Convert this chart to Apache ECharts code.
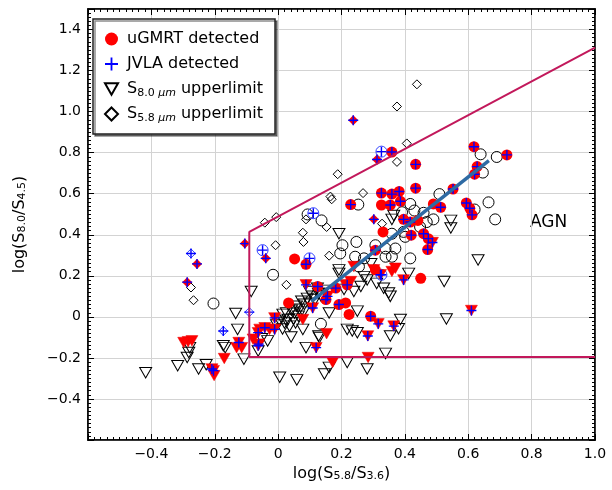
<!DOCTYPE html>
<html><head><meta charset="utf-8">
<script src="https://cdn.jsdelivr.net/npm/echarts@6/dist/echarts.min.js"></script>
<style>html,body{margin:0;padding:0;background:#fff}#c{width:612px;height:490px}</style>
</head><body><div id="c"></div>
<script>
// ---- tick labels ----
const xTickLabels = [-0.4, -0.2, 0, 0.2, 0.4, 0.6, 0.8, 1.0];
const yTickLabels = [-0.4, -0.2, 0, 0.2, 0.4, 0.6, 0.8, 1.0, 1.2, 1.4];

// ---- uGMRT detected (red filled) ----
const circleRed = [[0.618,0.829],[0.722,0.789],[0.628,0.732],[0.620,0.695],[0.434,0.743],[0.359,0.803],
 [0.326,0.603],[0.359,0.598],[0.382,0.611],[0.326,0.545],[0.354,0.545],[0.386,0.563],[0.229,0.547],
 [0.434,0.627],[0.552,0.623],[0.490,0.550],[0.513,0.534],[0.594,0.555],[0.605,0.529],[0.612,0.497],
 [0.396,0.475],[0.417,0.462],[0.441,0.470],[0.331,0.414],[0.420,0.398],[0.459,0.405],[0.474,0.381],
 [0.472,0.328],[0.307,0.325],[0.052,0.282],[0.088,0.256],[0.033,0.068],[0.224,0.012],[0.292,0.003],
 [0.450,0.188],[0.213,0.068],[0.192,0.060],[0.151,0.084],[0.307,0.229],[0.218,0.156],[0.182,0.140],[0.125,0.148]];
const triRed = [[-0.284,-0.121],[-0.272,-0.117],[-0.298,-0.125],[-0.204,-0.262],[-0.202,-0.286],[-0.209,-0.254],
 [-0.170,-0.203],[-0.124,-0.125],[-0.131,-0.150],[-0.115,-0.150],[-0.079,-0.109],[-0.063,-0.077],[-0.058,-0.061],
 [-0.042,-0.053],[-0.027,-0.061],[-0.061,-0.133],[-0.011,-0.005],[-0.011,-0.061],[-0.063,-0.141],
 [0.088,0.156],[0.156,0.100],[0.109,0.043],[0.078,-0.013],[0.316,-0.034],[0.365,-0.045],[0.153,-0.082],
 [0.120,-0.150],[0.283,-0.093],[0.172,-0.222],[0.284,-0.198],[0.239,0.245],[0.229,0.172],[0.213,0.156],
 [0.323,0.205],[0.359,0.221],[0.370,0.237],[0.396,0.180],[0.610,0.031],[0.487,0.362],[0.302,0.229]];
const diaRed = [[-0.256,0.258],[-0.287,0.169],[0.312,0.767],[0.237,0.958],[0.302,0.475],[-0.039,0.285],[-0.105,0.357]];

// ---- not uGMRT detected (open) ----
const circleOpen = [[-0.204,0.065],[0.639,0.792],[0.690,0.779],[0.646,0.703],[0.509,0.598],[0.253,0.547],
 [0.417,0.550],[0.430,0.518],[0.391,0.510],[0.459,0.507],[0.620,0.523],[0.664,0.558],[0.685,0.475],
 [0.469,0.462],[0.490,0.475],[0.448,0.438],[0.359,0.405],[0.401,0.390],[0.396,0.414],[0.370,0.333],
 [0.339,0.333],[0.307,0.349],[0.137,0.470],[0.093,0.499],[0.203,0.349],[0.196,0.309],[0.247,0.365],
 [0.243,0.293],[0.271,0.285],[0.255,0.245],[-0.016,0.205],[0.135,-0.034],[0.359,0.293],[0.417,0.285],[0.339,0.293]];
const triOpen = [[-0.418,-0.272],[-0.085,0.124],[-0.134,0.016],[-0.128,-0.061],[-0.279,-0.150],[-0.282,-0.174],
 [-0.287,-0.198],[-0.317,-0.238],[-0.251,-0.254],[-0.227,-0.233],[-0.167,-0.150],[-0.173,-0.141],[-0.108,-0.206],
 [-0.063,-0.166],[0.005,-0.294],[0.059,-0.307],[0.015,0.012],[0.026,0.019],[0.031,-0.013],[0.192,0.405],
 [0.365,0.494],[0.359,0.475],[0.545,0.470],[0.545,0.433],[0.192,0.229],[0.192,0.212],[0.271,0.196],
 [0.281,0.180],[0.161,0.019],[0.250,0.028],[0.386,-0.013],[0.354,-0.093],[0.218,-0.061],[0.234,-0.069],
 [0.250,-0.077],[0.130,-0.101],[0.041,-0.098],[0.078,-0.061],[0.088,-0.150],[0.161,-0.246],[0.146,-0.278],
 [0.218,-0.222],[0.281,-0.254],[0.339,-0.178],[0.349,0.116],[0.354,0.100],[0.412,0.212],[0.524,0.172],
 [0.631,0.277],[0.531,-0.010],[0.128,-0.093],[0.380,-0.058],
 [0.042,0.032],[0.052,0.018],[0.058,0.052],[0.067,0.037],[0.074,0.076],[0.083,0.061],[0.092,0.090],
 [0.099,0.066],[0.108,0.100],[0.117,0.085],[0.127,0.114],[0.136,0.100],[0.146,0.129],[0.155,0.114],
 [0.049,-0.011],[0.064,0.003],[0.080,0.023],[0.055,-0.030],[0.036,-0.045],[0.020,-0.030],[0.099,0.124],
 [0.124,0.139],[0.005,-0.021],[-0.005,-0.040],[0.014,-0.059],[-0.052,-0.107],[-0.033,-0.117],
 [0.293,0.259],[0.311,0.163],[0.333,0.139],[0.261,0.148],[0.239,0.124],[0.208,0.134]];
const diaOpen = [[-0.275,0.143],[-0.267,0.081],[0.375,1.025],[0.438,1.133],[0.406,0.845],[0.375,0.755],
 [0.188,0.695],[0.268,0.603],[0.165,0.586],[0.169,0.573],[-0.006,0.486],[-0.042,0.459],[0.088,0.475],
 [0.153,0.438],[0.078,0.410],[0.080,0.365],[-0.008,0.349],[0.328,0.454],[0.161,0.298],[0.026,0.156]];
const circleJvlaOnly = [[0.111,0.505],[0.326,0.805],[-0.049,0.325],[0.099,0.285],[0.326,0.205]];
const diaJvlaOnly = [[-0.275,0.309],[-0.091,0.023],[-0.173,-0.069]];

// ---- JVLA detected (blue plus) ----
const jvlaPlus = [[0.618,0.829],[0.722,0.789],[0.628,0.732],[0.620,0.695],[0.434,0.743],[0.359,0.803],
 [0.326,0.603],[0.359,0.598],[0.382,0.611],[0.354,0.545],[0.386,0.563],[0.229,0.547],[0.434,0.627],
 [0.552,0.623],[0.513,0.534],[0.594,0.555],[0.605,0.529],[0.612,0.497],[0.396,0.475],[0.417,0.462],
 [0.420,0.398],[0.459,0.405],[0.474,0.381],[0.472,0.328],[0.307,0.325],[0.088,0.256],[0.292,0.003],
 [0.192,0.060],[0.151,0.084],[0.218,0.156],[0.182,0.140],[0.125,0.148],
 [-0.204,-0.262],[-0.209,-0.254],[-0.124,-0.125],[-0.063,-0.077],[-0.042,-0.053],[-0.061,-0.133],
 [-0.011,-0.005],[-0.011,-0.061],[-0.063,-0.141],[0.088,0.156],[0.156,0.100],[0.109,0.043],[0.316,-0.034],
 [0.365,-0.045],[0.120,-0.150],[0.283,-0.093],[0.323,0.205],[0.396,0.180],[0.610,0.031],[0.487,0.362],
 [-0.256,0.258],[-0.287,0.169],[0.312,0.767],[0.237,0.958],[0.302,0.475],[-0.039,0.285],[-0.105,0.357],
 [0.111,0.505],[0.326,0.805],[-0.049,0.325],[0.099,0.285],[0.326,0.205],
 [-0.275,0.309],[-0.091,0.023],[-0.173,-0.069]];

// ---- lines ----
const agnWedge = [[1.0,-0.195],[-0.091,-0.195],[-0.091,0.414],[1.0,1.312]];
const fitLine = [[0.105,0.076],[0.665,0.761]];

const FONT = 'DejaVu Sans';
const TRI = 'path://M0,0L10,0L5,8.66Z';
const PLUS = 'path://M4.3,0H5.7V4.3H10V5.7H5.7V10H4.3V5.7H0V4.3H4.3Z';

function fmt(list){
  return function(v){
    const r = Math.round(v*10)/10;
    if (Math.abs(v-r) > 1e-6 || !list.some(t => Math.abs(t-r) < 1e-9)) return '';
    return r === 0 ? '0' : r.toFixed(1).replace('-', '\u2212');
  };
}
const openStyle = {color:'rgba(0,0,0,0)', borderColor:'#000', borderWidth:1, opacity:1};
function axisCommon(extra){
  return Object.assign({
    axisLine:{show:true, onZero:false, lineStyle:{color:'#000', width:1.5}},
    axisTick:{show:true, inside:true, length:6, lineStyle:{color:'#000', width:1}},
    minorTick:{show:true, splitNumber:10, length:3, lineStyle:{color:'#000', width:1}},
  }, extra);
}

const chart = echarts.init(document.getElementById('c'), null, {renderer:'canvas'});
chart.setOption({
  animation:false,
  grid:{left:88, right:17, top:9, bottom:50, show:true, borderColor:'#000', borderWidth:1.5, backgroundColor:'#fff'},
  legend:{
    orient:'vertical', left:93, top:19, padding:[10,12,10,11], itemGap:5, itemWidth:13, itemHeight:13,
    backgroundColor:'#fff', borderColor:'#222', borderWidth:1.5,
    shadowColor:'rgba(0,0,0,0.45)', shadowOffsetX:2, shadowOffsetY:2, shadowBlur:0,
    selectedMode:false,
    data:[
      {name:'uGMRT detected', icon:'circle', itemStyle:{color:'#ff0000', borderWidth:0, opacity:1}},
      {name:'JVLA detected', icon:PLUS, itemStyle:{color:'#0000ff', borderWidth:0, opacity:1}},
      {name:'S8', icon:TRI, itemStyle:{color:'rgba(0,0,0,0)', borderColor:'#000', borderWidth:2, opacity:1}},
      {name:'S5', icon:'diamond', itemStyle:{color:'rgba(0,0,0,0)', borderColor:'#000', borderWidth:2, opacity:1}}
    ],
    formatter: function(n){
      return {'uGMRT detected':'uGMRT detected','JVLA detected':'JVLA detected',
        'S8':'S{sub|8.0 }{subi|μm} upperlimit','S5':'S{sub|5.8 }{subi|μm} upperlimit'}[n];
    },
    textStyle:{fontFamily:FONT, fontSize:16, color:'#000', lineHeight:20, padding:[0,0,0,4],
      rich:{sub:{fontFamily:FONT, fontSize:11, verticalAlign:'bottom', lineHeight:14},
            subi:{fontFamily:FONT, fontSize:11, fontStyle:'italic', verticalAlign:'bottom', lineHeight:14}}}
  },
  xAxis:[
    axisCommon({type:'value', min:-0.6, max:1.0, interval:0.2, position:'bottom',
      name:'log(S{sub|5.8}/S{sub|3.6})', nameLocation:'middle', nameGap:24,
      nameTextStyle:{fontFamily:FONT, fontSize:16, color:'#000', rich:{sub:{fontFamily:FONT, fontSize:11, verticalAlign:'bottom', lineHeight:14}}},
      axisLabel:{formatter:fmt(xTickLabels), fontFamily:FONT, fontSize:14, color:'#000', margin:7},
      splitLine:{show:true, lineStyle:{color:'#d3d3d3', width:1}}}),
    axisCommon({type:'value', min:-0.6, max:1.0, interval:0.2, position:'top',
      axisLabel:{show:false}, splitLine:{show:false}})
  ],
  yAxis:[
    axisCommon({type:'value', min:-0.6, max:1.5, interval:0.2, position:'left',
      name:'log(S{sub|8.0}/S{sub|4.5})', nameLocation:'middle', nameGap:60,
      nameTextStyle:{fontFamily:FONT, fontSize:16, color:'#000', rich:{sub:{fontFamily:FONT, fontSize:11, verticalAlign:'bottom', lineHeight:14}}},
      axisLabel:{formatter:fmt(yTickLabels), fontFamily:FONT, fontSize:14, color:'#000', margin:7},
      splitLine:{show:true, lineStyle:{color:'#d3d3d3', width:1}}}),
    axisCommon({type:'value', min:-0.6, max:1.5, interval:0.2, position:'right',
      axisLabel:{show:false}, splitLine:{show:false}})
  ],
  graphic:[{type:'text', left:530, top:214, style:{text:'AGN', fontFamily:FONT, fontSize:17, fill:'#000'}}],
  series:[
    {name:'circleOpen', type:'scatter', data:circleOpen, symbol:'circle', symbolSize:11, itemStyle:openStyle, z:2},
    {name:'S8', type:'scatter', data:triOpen, symbol:TRI, symbolSize:[12,10.5], itemStyle:openStyle, z:2},
    {name:'S5', type:'scatter', data:diaOpen, symbol:'diamond', symbolSize:9, itemStyle:openStyle, z:2},
    {name:'circleJ', type:'scatter', data:circleJvlaOnly, symbol:'circle', symbolSize:11, itemStyle:{color:'rgba(0,0,0,0)', borderColor:'#3344ff', borderWidth:1, opacity:1}, z:3},
    {name:'diaJ', type:'scatter', data:diaJvlaOnly, symbol:'diamond', symbolSize:9, itemStyle:{color:'rgba(0,0,0,0)', borderColor:'#3344ff', borderWidth:1, opacity:1}, z:3},
    {name:'triRed', type:'scatter', data:triRed, symbol:TRI, symbolSize:[12,10.5], itemStyle:{color:'#ff0000', borderColor:'#ee0000', borderWidth:0.5, opacity:1}, z:3},
    {name:'uGMRT detected', type:'scatter', data:circleRed, symbol:'circle', symbolSize:11, itemStyle:{color:'#ff0000', opacity:1}, z:3},
    {name:'diaRed', type:'scatter', data:diaRed, symbol:'diamond', symbolSize:10, itemStyle:{color:'#ff0000', opacity:1}, z:3},
    {name:'JVLA detected', type:'scatter', data:jvlaPlus, symbol:PLUS, symbolSize:10, itemStyle:{color:'#0000ff', opacity:1}, z:4},
    {name:'wedge', type:'line', data:agnWedge, showSymbol:false, symbol:'none', lineStyle:{color:'#c2185b', width:2}, z:5, silent:true},
    {name:'fit', type:'line', data:fitLine, showSymbol:false, symbol:'none', lineStyle:{color:'#2e6aa3', width:3.5}, z:5, silent:true}
  ]
});
</script></body></html>
